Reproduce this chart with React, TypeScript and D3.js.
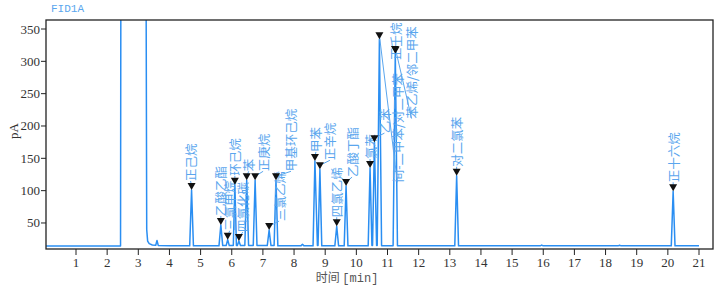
import React from "react";
import * as d3 from "d3";

// ---------- data ----------
const peakNames = [
  "正己烷", "乙酸乙酯", "三氯甲烷", "环己烷", "四氯化碳", "苯", "正庚烷", "三氯乙烯",
  "甲基环己烷", "甲苯", "正辛烷", "四氯乙烯", "乙酸丁酯", "氯苯", "乙苯",
  "间-二甲苯/对二甲苯", "正壬烷", "苯乙烯/邻二甲苯", "对二氯苯", "正十六烷",
];
const peakTimes = [
  4.71, 5.65, 5.87, 6.1, 6.23, 6.48, 6.75, 7.2, 7.42, 8.67, 8.83, 9.37, 9.67,
  10.44, 10.58, 10.74, 11.24, 11.26, 13.22, 20.17,
];
const peakHeights = [
  101, 47, 24, 109, 22, 116, 116, 39, 116, 146, 133, 45, 107, 135, 175, 334,
  313, 312, 123, 99,
];

// chromatogram trace: [time (min), signal (pA)]
const trace: [number, number][] = [
  [0.04, 14.2], [2.43, 14.2], [2.44, 420], [3.25, 420], [3.27, 40], [3.3, 22],
  [3.35, 18], [3.45, 16], [3.56, 15.5], [3.6, 23], [3.64, 15.3], [4.0, 14.8],
  [4.65, 14.6], [4.71, 101], [4.77, 14.6], [5.59, 14.6], [5.65, 47], [5.71, 15],
  [5.82, 15], [5.87, 24], [5.92, 15], [6.05, 15], [6.1, 109], [6.15, 15],
  [6.18, 15], [6.23, 22], [6.28, 15], [6.42, 15], [6.48, 116], [6.54, 15],
  [6.69, 15], [6.75, 116], [6.81, 15], [7.14, 15], [7.2, 39], [7.26, 15],
  [7.36, 15], [7.42, 116], [7.48, 14.6], [8.22, 14.6], [8.27, 17], [8.32, 14.6],
  [8.61, 14.6], [8.67, 146], [8.75, 15], [8.77, 15], [8.83, 133], [8.89, 14.6],
  [9.31, 14.6], [9.37, 45], [9.43, 14.6], [9.61, 14.6], [9.67, 107], [9.73, 14.6],
  [10.38, 14.6], [10.44, 135], [10.5, 15], [10.52, 15], [10.58, 175], [10.65, 15],
  [10.67, 15], [10.74, 334], [10.81, 14.6], [11.18, 14.6], [11.25, 313],
  [11.32, 14.6], [13.16, 14.6], [13.22, 123], [13.28, 14.6], [15.9, 14.6],
  [15.95, 15.8], [16.0, 14.6], [18.4, 14.6], [18.45, 15.5], [18.5, 14.6],
  [20.11, 14.6], [20.17, 99], [20.23, 14.6], [21.0, 14.6],
];

const xTicks = d3.range(1, 22);
const yTicks = [50, 100, 150, 200, 250, 300, 350];

// ---------- layout (pixels) ----------
// label offsets relative to the default spot above the marker: [dx, dy, leader]
const labelLayout: [number, number, number][] = [
  [-1, 0, 1], [0, 0, 1], [2, 0, 1], [0, 0, 1], [4, 0, 1], [2, 0, 1], [8, 0, 1],
  [10, 0, 1], [15, 0, 1], [1, 0, 1], [10, 0, 1], [0, 0, 1], [6, 0, 1], [0, 0, 1],
  [10, 0, 1], [18, 152, 1], [1, 16, 0], [16, 74, 1], [0, 0, 1], [0, 0, 1],
];

const W = 720;
const H = 285;
const left = 46;
const right = 713;
const top = 20;
const bottom = 249;

const TRACE = "#2a8ef2";
const LABEL = "#5aa6ee";

export default function App() {
  const x = d3.scaleLinear().domain([0, 21]).range([44.85, 699]);
  const y = d3.scaleLinear().domain([0, 350]).range([255.3, 29]);
  const line = d3
    .line<[number, number]>()
    .x((d) => x(d[0]))
    .y((d) => y(d[1]));

  return (
    <svg
      width={W}
      height={H}
      style={{ position: "absolute", left: 0, top: 0, background: "#fff" }}
    >
      <defs>
        <clipPath id="plotClip">
          <rect x={left} y={top} width={right - left} height={bottom - top} />
        </clipPath>
      </defs>

      <text
        x={51}
        y={12}
        fill={LABEL}
        fontFamily="'Liberation Mono', monospace"
        fontSize={11}
      >
        FID1A
      </text>

      {/* trace */}
      <path
        d={line(trace) || ""}
        fill="none"
        stroke={TRACE}
        strokeWidth={1.5}
        strokeLinejoin="round"
        clipPath="url(#plotClip)"
      />

      {/* frame */}
      <rect
        x={left}
        y={top}
        width={right - left}
        height={bottom - top}
        fill="none"
        stroke="#222"
        strokeWidth={1.3}
      />

      {/* y axis */}
      {yTicks.map((v) => (
        <g key={"y" + v}>
          <line x1={41} x2={left} y1={y(v)} y2={y(v)} stroke="#222" strokeWidth={1} />
          <text
            x={40}
            y={y(v)}
            textAnchor="end"
            dominantBaseline="central"
            fontFamily="'Liberation Serif', serif"
            fontSize={13}
            fill="#333"
          >
            {v}
          </text>
        </g>
      ))}

      {/* x axis */}
      {xTicks.map((v) => (
        <g key={"x" + v}>
          <line x1={x(v)} x2={x(v)} y1={bottom} y2={bottom + 6} stroke="#222" strokeWidth={1} />
          <text
            x={x(v)}
            y={262}
            textAnchor="middle"
            dominantBaseline="central"
            fontFamily="'Liberation Serif', serif"
            fontSize={13}
            fill="#333"
          >
            {v}
          </text>
        </g>
      ))}

      <text
        transform="translate(13,131) rotate(-90)"
        textAnchor="middle"
        dominantBaseline="central"
        fontFamily="'Liberation Serif', serif"
        fontSize={13}
        fill="#333"
      >
        pA
      </text>
      <text x={347} y={282} textAnchor="middle" fill="#555">
        <tspan fontFamily="'Noto Sans CJK SC', sans-serif" fontSize={12}>
          时间{" "}
        </tspan>
        <tspan fontFamily="'Liberation Mono', monospace" fontSize={12}>
          [min]
        </tspan>
      </text>

      {/* peak labels, leaders, markers */}
      {peakNames.map((name, i) => {
        const px = x(peakTimes[i]);
        const tip = y(peakHeights[i]);
        const [dx, dy, leader] = labelLayout[i];
        const lx = px + dx;
        const lb = tip - 9 + dy;
        return (
          <g key={"p" + i}>
            {leader ? (
              <line
                x1={px}
                y1={tip - 4}
                x2={lx}
                y2={lb}
                stroke={LABEL}
                strokeWidth={1}
              />
            ) : null}
            <text
              transform={`translate(${lx},${lb}) rotate(-90)`}
              textAnchor="start"
              dominantBaseline="central"
              fontFamily="'Noto Sans CJK SC', sans-serif"
              fontSize={12.5}
              fill={LABEL}
            >
              {name}
            </text>
          </g>
        );
      })}
      {peakNames.map((name, i) => {
        const px = x(peakTimes[i]);
        const tip = y(peakHeights[i]);
        const path = d3.path();
        path.moveTo(px - 4, tip - 7);
        path.lineTo(px + 4, tip - 7);
        path.lineTo(px, tip);
        path.closePath();
        return <path key={"m" + i} d={path.toString()} fill="#111" />;
      })}
    </svg>
  );
}
